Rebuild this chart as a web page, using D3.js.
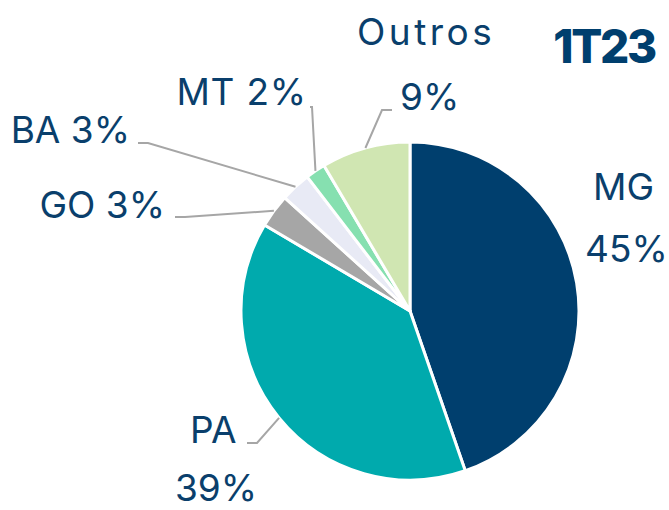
<!DOCTYPE html>
<html><head><meta charset="utf-8">
<script src="https://cdn.jsdelivr.net/npm/d3@7"></script>
<style>
html,body{margin:0;padding:0;background:#fff;}
svg{display:block;}
text{font-family:Inter,"Open Sans",sans-serif;}
</style></head>
<body>
<svg id="chart" width="669" height="510"></svg>
<script>
// Data
const categories = ["MG", "PA", "GO", "BA", "MT", "Outros"];
const values = [44.7, 38.8, 3.2, 2.9, 1.9, 8.5];
const pctLabels = ["45%", "39%", "3%", "3%", "2%", "9%"];
const colors = ["#003f6e", "#00aaad", "#a6a6a6", "#e8eaf5", "#86e0b0", "#d0e6b2"];
const title = "1T23";

const svg = d3.select("#chart");
const cx = 410, cy = 311, R = 169;
const textColor = "#0a3f6c";

const pie = d3.pie().sort(null).value(d => d.v).startAngle(0).endAngle(2 * Math.PI);
const data = categories.map((c, i) => ({c, v: values[i], p: pctLabels[i], col: colors[i]}));
const arcs = pie(data);
const arc = d3.arc().innerRadius(0).outerRadius(R);

const g = svg.append("g").attr("transform", `translate(${cx},${cy})`);
g.selectAll("path.slice").data(arcs).enter().append("path")
  .attr("class", "slice")
  .attr("d", arc)
  .attr("fill", d => d.data.col)
  .attr("stroke", "#fff")
  .attr("stroke-width", 3)
  .attr("stroke-linejoin", "round");

// label layout (relative to chart center): kind "name", "pct" or "both"
const layout = {
  "MG":     {lines: [{k: "name", x: 183, y: -111, a: "start"}, {k: "pct", x: 175, y: -49, a: "start"}]},
  "PA":     {lines: [{k: "name", x: -220, y: 132, a: "start"}, {k: "pct", x: -235, y: 190, a: "start"}],
             leader: [[-153, 132], [-163, 132]]},
  "GO":     {lines: [{k: "both", x: -245, y: -93, a: "end"}], leader: [[-225, -94], [-235, -94]]},
  "BA":     {lines: [{k: "both", x: -280, y: -168, a: "end"}], leader: [[-262, -168], [-272, -168]]},
  "MT":     {lines: [{k: "both", x: -103, y: -206, a: "end", ls: 0.8}], leader: [[-98, -204], [-100, -204]]},
  "Outros": {lines: [{k: "name", x: -53, y: -266, a: "start", ls: 3.5}, {k: "pct", x: -10, y: -201, a: "start"}],
             leader: [[-28, -201], [-18, -201]]}
};

arcs.forEach(d => {
  const L = layout[d.data.c];
  if (L.leader) {
    const m = (d.startAngle + d.endAngle) / 2;
    const p0 = [R * Math.sin(m), -R * Math.cos(m)];
    const pts = [p0].concat(L.leader);
    g.append("path")
      .attr("d", d3.line()(pts))
      .attr("fill", "none")
      .attr("stroke", "#a6a6a6")
      .attr("stroke-width", 2);
  }
  L.lines.forEach(l => {
    const txt = l.k === "name" ? d.data.c : l.k === "pct" ? d.data.p : d.data.c + " " + d.data.p;
    g.append("text")
      .attr("x", l.x).attr("y", l.y)
      .attr("text-anchor", l.a)
      .attr("fill", textColor)
      .attr("font-size", 37)
      .attr("letter-spacing", l.ls || 0)
      .text(txt);
  });
});

svg.append("text")
  .attr("x", 655).attr("y", 63)
  .attr("text-anchor", "end")
  .attr("fill", "#003f6e")
  .attr("font-size", 46)
  .attr("font-weight", 800)
  .attr("letter-spacing", -2.3)
  .text(title);
</script>
</body></html>
